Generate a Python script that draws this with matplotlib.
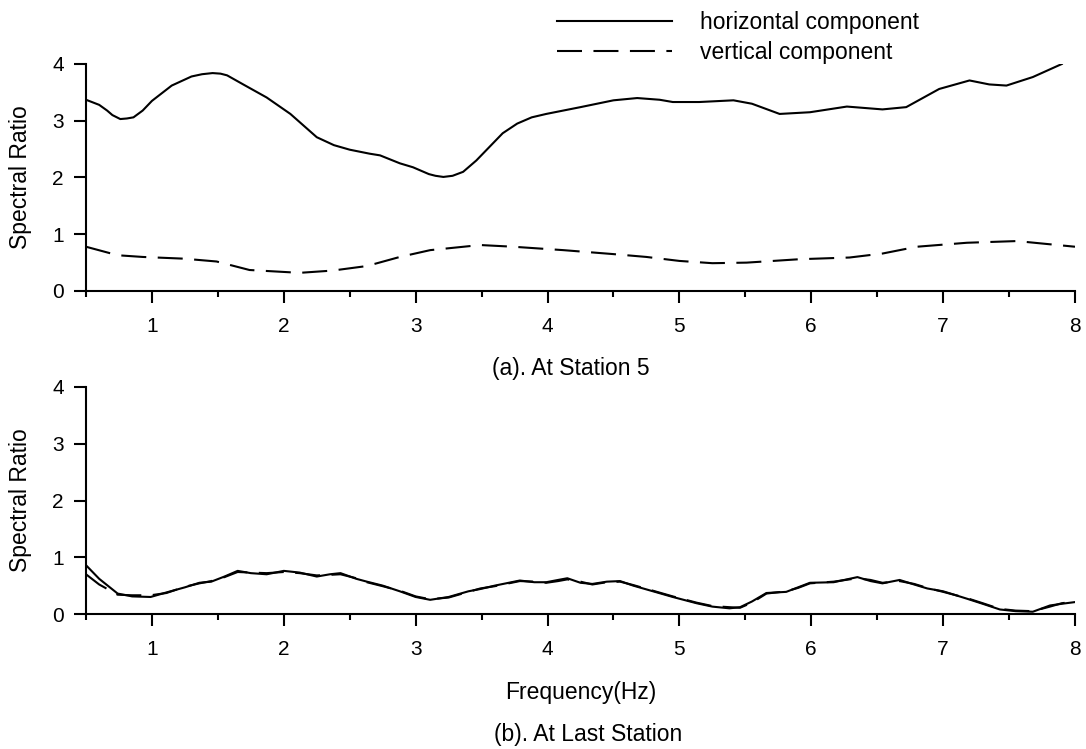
"""Spectral ratio curves at two stations — horizontal vs vertical component."""
import matplotlib; matplotlib.use("Agg")
import matplotlib.pyplot as plt
from matplotlib.ticker import MultipleLocator

plt.rcParams["font.family"] = ["Liberation Sans", "DejaVu Sans"]

# ── Data ──────────────────────────────────────────────────────────────
# (a) Station 5
freq_a_h = [0.50, 0.60, 0.66, 0.70, 0.76, 0.81, 0.86, 0.93, 1.00, 1.15, 1.30, 1.38,
            1.46, 1.52, 1.57, 1.70, 1.87, 2.05, 2.25, 2.38, 2.50, 2.65, 2.73, 2.88,
            2.98, 3.10, 3.15, 3.21, 3.28, 3.36, 3.46, 3.56, 3.66, 3.77, 3.88, 3.99,
            4.25, 4.50, 4.68, 4.85, 4.95, 5.15, 5.41, 5.55, 5.76, 5.99, 6.27, 6.54,
            6.72, 6.97, 7.20, 7.35, 7.48, 7.68, 7.90]
ratio_a_h = [3.37, 3.28, 3.18, 3.10, 3.03, 3.04, 3.06, 3.18, 3.35, 3.62, 3.78, 3.82,
             3.84, 3.83, 3.80, 3.63, 3.41, 3.12, 2.71, 2.57, 2.49, 2.42, 2.39, 2.25,
             2.18, 2.06, 2.03, 2.01, 2.03, 2.10, 2.30, 2.54, 2.78, 2.95, 3.06, 3.12,
             3.24, 3.36, 3.40, 3.37, 3.33, 3.33, 3.36, 3.30, 3.12, 3.15, 3.25, 3.20,
             3.24, 3.56, 3.71, 3.64, 3.62, 3.77, 4.00]

freq_a_v = [0.50, 0.74, 0.93, 1.24, 1.49, 1.74, 2.12, 2.37, 2.63, 2.88, 3.11, 3.49,
            3.74, 4.12, 4.50, 4.75, 5.00, 5.25, 5.51, 5.91, 6.29, 6.54, 6.80, 7.18,
            7.56, 8.00]
ratio_a_v = [0.78, 0.63, 0.60, 0.57, 0.52, 0.37, 0.32, 0.36, 0.44, 0.60, 0.72, 0.81,
             0.78, 0.72, 0.65, 0.60, 0.53, 0.49, 0.50, 0.56, 0.59, 0.66, 0.78, 0.85,
             0.88, 0.78]

# (b) Last station
freq_b = [0.50, 0.60, 0.74, 0.85, 0.99, 1.11, 1.25, 1.36, 1.45, 1.55, 1.65, 1.75,
          1.87, 2.00, 2.12, 2.25, 2.35, 2.43, 2.55, 2.63, 2.75, 2.88, 3.00, 3.11,
          3.25, 3.40, 3.49, 3.60, 3.79, 3.90, 3.99, 4.08, 4.15, 4.25, 4.34, 4.45,
          4.55, 4.65, 4.80, 4.95, 5.13, 5.25, 5.38, 5.46, 5.55, 5.66, 5.81, 5.90,
          5.99, 6.17, 6.35, 6.45, 6.54, 6.67, 6.78, 6.88, 7.00, 7.18, 7.30, 7.43,
          7.55, 7.68, 7.81, 7.90, 8.00]
ratio_b_h = [0.86, 0.62, 0.36, 0.31, 0.30, 0.38, 0.47, 0.55, 0.57, 0.66, 0.76, 0.72,
             0.70, 0.76, 0.73, 0.66, 0.70, 0.72, 0.62, 0.57, 0.50, 0.40, 0.30, 0.25,
             0.30, 0.40, 0.44, 0.50, 0.59, 0.56, 0.56, 0.60, 0.63, 0.55, 0.53, 0.57,
             0.58, 0.50, 0.40, 0.30, 0.19, 0.13, 0.10, 0.12, 0.22, 0.37, 0.39, 0.47,
             0.55, 0.56, 0.65, 0.58, 0.54, 0.60, 0.52, 0.45, 0.40, 0.27, 0.18, 0.08,
             0.05, 0.04, 0.15, 0.18, 0.21]
ratio_b_v = [0.70, 0.52, 0.34, 0.33, 0.33, 0.37, 0.48, 0.54, 0.58, 0.65, 0.74, 0.73,
             0.72, 0.74, 0.72, 0.68, 0.69, 0.70, 0.63, 0.56, 0.49, 0.41, 0.31, 0.26,
             0.29, 0.39, 0.45, 0.49, 0.58, 0.57, 0.55, 0.58, 0.61, 0.57, 0.52, 0.56,
             0.57, 0.51, 0.41, 0.31, 0.20, 0.14, 0.12, 0.11, 0.20, 0.36, 0.40, 0.46,
             0.54, 0.57, 0.63, 0.60, 0.55, 0.58, 0.53, 0.46, 0.39, 0.28, 0.19, 0.09,
             0.06, 0.05, 0.13, 0.19, 0.22]

# ── Figure ────────────────────────────────────────────────────────────
W, H = 1086, 749
fig = plt.figure(figsize=(W / 100, H / 100), dpi=100)
ax_a = fig.add_axes([86 / W, 1 - 291 / H, 989 / W, 227 / H])
ax_b = fig.add_axes([86 / W, 1 - 614 / H, 989 / W, 227 / H])

LW = 1.5
DASH = (12, 5.5)
line_kw = dict(color="black", lw=LW, solid_joinstyle="round", dash_joinstyle="round")

ax_a.plot(freq_a_h, ratio_a_h, label="horizontal component", **line_kw)
ax_a.plot(freq_a_v, ratio_a_v, dashes=DASH, label="vertical component", **line_kw)
ax_b.plot(freq_b, ratio_b_h, **line_kw)
ax_b.plot(freq_b, ratio_b_v, dashes=DASH, **line_kw)

for ax in (ax_a, ax_b):
    ax.set_xlim(0.5, 8)
    ax.set_ylim(0, 4)
    ax.xaxis.set_major_locator(MultipleLocator(1))
    ax.xaxis.set_minor_locator(MultipleLocator(0.5))
    ax.yaxis.set_major_locator(MultipleLocator(1))
    for side in ("top", "right"):
        ax.spines[side].set_visible(False)
    for side in ("left", "bottom"):
        ax.spines[side].set_linewidth(1.5)
    ax.tick_params(axis="x", which="major", direction="out", length=8.5, width=1.5,
                   pad=10, labelsize=15)
    ax.tick_params(axis="x", which="minor", direction="out", length=4.5, width=1.5)
    ax.tick_params(axis="y", which="major", direction="out", length=9, width=1.5,
                   pad=7, labelsize=15)
    ax.set_ylabel("Spectral Ratio", fontsize=16.5)
    ax.yaxis.set_label_coords(-54 / 989, 0.5)

fig.text(571 / W, 1 - 369 / H, "(a). At Station 5", ha="center", va="center",
         fontsize=16.5)
fig.text(581 / W, 1 - 692 / H, "Frequency(Hz)", ha="center", va="center",
         fontsize=16.5)
fig.text(588 / W, 1 - 734 / H, "(b). At Last Station", ha="center", va="center",
         fontsize=16.5)

fig.legend(*ax_a.get_legend_handles_labels(), loc="upper left",
           bbox_to_anchor=(557 / W, 1 - 11 / H), bbox_transform=fig.transFigure,
           frameon=False, borderpad=0, borderaxespad=0, fontsize=16.5,
           handlelength=5.0, handletextpad=1.25, labelspacing=0.3)

fig.savefig("out.png", dpi=100, facecolor="white")
